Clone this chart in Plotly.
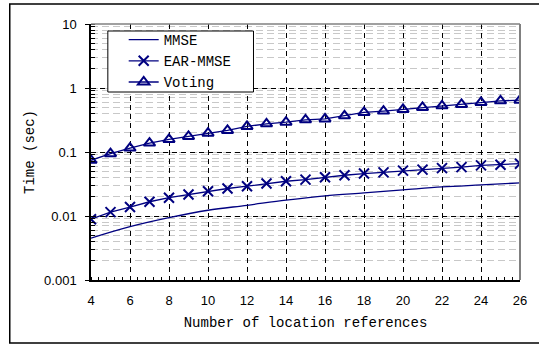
import plotly.graph_objects as go

# Number of location references
x_refs = list(range(4, 27))
x_mmse = [4, 6, 8, 10, 12, 14, 16, 18, 20, 22, 24, 26]

# Computation time (sec)
t_mmse = [0.0045, 0.0068, 0.0094, 0.0123, 0.0147, 0.0177, 0.0207,
          0.0230, 0.0256, 0.0285, 0.0306, 0.0329]
t_ear_mmse = [0.0089, 0.0115, 0.0138, 0.0167, 0.0193, 0.0217, 0.0244,
              0.0269, 0.0292, 0.0321, 0.0349, 0.0370, 0.0403, 0.0433,
              0.0460, 0.0480, 0.0512, 0.0530, 0.0560, 0.0580, 0.0618,
              0.0634, 0.0657]
t_voting = [0.0743, 0.094, 0.115, 0.138, 0.157, 0.175, 0.197, 0.217,
            0.251, 0.276, 0.292, 0.318, 0.329, 0.368, 0.416, 0.436,
            0.462, 0.497, 0.526, 0.553, 0.594, 0.630, 0.645]

x_ticks = [4, 6, 8, 10, 12, 14, 16, 18, 20, 22, 24, 26]
y_tickvals = [0.001, 0.01, 0.1, 1, 10]
y_ticktext = ["0.001", "0.01", "0.1", "1", "10"]

NAVY = "#000080"
MONO = "Liberation Mono, Courier New, monospace"
SANS = "Liberation Sans, Arial, sans-serif"

W, H = 539, 346
L, R, T, B = 91, 15, 24, 66
pw, ph = W - L - R, H - T - B


def px(xp):
    return (xp - L) / pw


def py(yp):
    return (H - B - yp) / ph


fig = go.Figure()
fig.add_trace(go.Scatter(
    x=x_mmse, y=t_mmse, name="MMSE", mode="lines",
    line=dict(color=NAVY, width=1.3, shape="spline")))
fig.add_trace(go.Scatter(
    x=x_refs, y=t_ear_mmse, name="EAR-MMSE", mode="lines+markers",
    line=dict(color=NAVY, width=1.3),
    marker=dict(symbol="x-thin-open", size=10, color=NAVY,
                line=dict(color=NAVY, width=2))))
fig.add_trace(go.Scatter(
    x=x_refs, y=t_voting, name="Voting", mode="lines+markers",
    line=dict(color=NAVY, width=1.3),
    marker=dict(symbol="triangle-up-open", size=10, color=NAVY,
                line=dict(color=NAVY, width=2))))

shapes = [
    # outer chart frame
    dict(type="rect", xref="paper", yref="paper",
         x0=px(9), x1=px(545), y0=py(343), y1=py(4),
         line=dict(color="#000000", width=1.5), layer="below"),
    # plot area top / right border
    dict(type="line", xref="paper", yref="paper",
         x0=0, x1=1, y0=1, y1=1,
         line=dict(color="#808080", width=1.5), layer="above"),
    dict(type="line", xref="paper", yref="paper",
         x0=1, x1=1, y0=0, y1=1,
         line=dict(color="#808080", width=2), layer="above"),
    # legend box
    dict(type="rect", xref="paper", yref="paper",
         x0=px(108), x1=px(255), y0=py(92), y1=py(31),
         fillcolor="#ffffff", line=dict(color="#000000", width=1),
         layer="above"),
]

fig.update_layout(
    width=W, height=H, autosize=False,
    margin=dict(l=L, r=R, t=T, b=B),
    paper_bgcolor="#ffffff", plot_bgcolor="#ffffff",
    font=dict(family=SANS, size=13, color="#000000"),
    showlegend=True,
    legend=dict(x=px(124), y=py(24), xanchor="left", yanchor="top",
                bgcolor="rgba(0,0,0,0)", borderwidth=0,
                font=dict(family=MONO, size=14, color="#000000"),
                tracegroupgap=0),
    shapes=shapes,
    xaxis=dict(
        range=[4, 26], tickvals=x_ticks, showline=True,
        linecolor="#000000", linewidth=1.5, automargin=True,
        ticks="", showgrid=True, gridcolor="#000000", gridwidth=1,
        griddash="5px,4px", zeroline=False,
        tickfont=dict(family=SANS, size=13), ticklabelstandoff=8,
        minor=dict(tick0=4, dtick=0.4, ticks="inside", ticklen=3,
                   tickcolor="#000000", showgrid=False),
        title=dict(text="Number of location references",
                   font=dict(family=MONO, size=14, color="#000000"),
                   standoff=10),
    ),
    yaxis=dict(
        type="log", range=[-3, 1], tickvals=y_tickvals,
        ticktext=y_ticktext, showline=True, linecolor="#000000",
        linewidth=1.5, ticks="outside", ticklen=4, tickcolor="#000000",
        automargin=True,
        showgrid=True, gridcolor="#000000", gridwidth=1,
        griddash="5px,4px",
        zeroline=False, tickfont=dict(family=SANS, size=13),
        ticklabelstandoff=6,
        minor=dict(dtick="D1", ticks="inside", ticklen=4,
                   tickcolor="#000000", showgrid=True,
                   gridcolor="#c8c8c8", gridwidth=1,
                   griddash="7px,4px"),
        title=dict(text="Time (sec)",
                   font=dict(family=MONO, size=14, color="#000000"),
                   standoff=6),
    ),
)

fig.write_html("out.html")
